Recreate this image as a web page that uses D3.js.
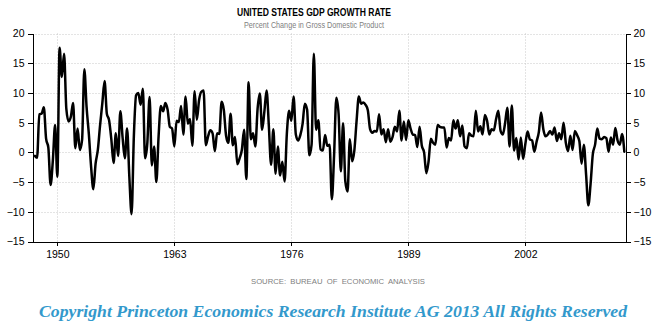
<!DOCTYPE html>
<html>
<head>
<meta charset="utf-8">
<script src="https://cdn.jsdelivr.net/npm/d3@7"></script>
<style>
  body { margin: 0; background: #fff; }
  svg { display: block; font-family: "Liberation Sans", Arial, sans-serif; }
  .grid line { stroke: #c8c8c8; stroke-dasharray: 1,2; }
  .axis path, .axis line { stroke: #000; shape-rendering: crispEdges; }
  .axis text { fill: #000; font-size: 10.5px; }
</style>
</head>
<body>
<div id="chart"></div>
<script>
// quarterly real GDP growth, annualized %, starting 1947 Q2
const growth1940s = [-0.6, -0.9, 6.4,
  6.5, 7.6, 2.3, 0.8,
  -5.5, -1.4, 4.6, -4.1];
const growth1950s = [17.6, 12.7, 16.6, 7.3,
  5.2, 6.0, 8.3, 0.7,
  4.0, 0.4, 2.1, 14.0,
  7.6, 3.1, -2.4, -6.2,
  -1.9, 0.4, 4.6, 8.3,
  12.0, 6.5, 5.4, 2.2,
  -1.8, 3.2, -0.6, 6.9,
  2.5, -1.0, 4.0, -4.1,
  -10.4, 2.6, 9.6, 10.0,
  8.0, 10.7, -1.0, 1.6];
const growth1960s = [9.3, -2.2, 1.0, -5.0,
  2.7, 7.8, 6.9, 8.3,
  7.2, 4.3, 4.0, 1.0,
  5.3, 5.1, 7.8, 3.0,
  9.4, 4.8, 5.6, 1.1,
  10.3, 5.5, 8.8, 10.2,
  10.4, 1.2, 2.7, 3.7,
  3.2, 0.2, 3.2, 3.1,
  8.5, 7.1, 2.8, 1.6,
  6.5, 1.2, 2.6, -2.0];
const growth1970s = [-1.0, 0.4, 3.8, -4.5,
  11.8, 2.2, 3.2, 1.0,
  7.3, 9.9, 3.8, 6.8,
  10.4, 4.5, -2.1, 3.9,
  -3.6, 1.0, -3.9, -1.6,
  -4.9, 3.1, 7.0, 5.3,
  9.4, 3.0, 2.0, 2.9,
  4.8, 8.2, 7.2, -0.5,
  1.3, 16.6, 3.8, 5.4,
  0.5, 0.3, 2.9, 1.1];
const growth1980s = [1.3, -7.9, -0.5, 9.2,
  6.5, -3.2, 4.9, -4.9,
  -6.6, 2.2, -1.5, 0.3,
  5.3, 9.4, 8.2, 8.4,
  8.0, 7.1, 3.9, 3.3,
  3.6, 3.5, 6.4, 3.0,
  3.9, 1.7, 3.9, 1.8,
  2.6, 4.3, 3.5, 7.0,
  2.0, 5.2, 2.1, 5.4,
  4.0, 3.0, 2.9, 0.9];
const growth1990s = [4.3, 1.1, 0.0, -3.5,
  -1.5, 2.3, 1.6, 1.3,
  4.6, 4.3, 4.2, 4.2,
  0.8, 2.4, 2.0, 5.4,
  4.0, 5.4, 2.7, 4.5,
  1.0, 0.7, 3.2, 2.8,
  2.7, 7.0, 3.5, 4.4,
  3.0, 6.3, 5.3, 3.0,
  3.9, 3.7, 5.6, 7.0,
  3.6, 3.0, 4.9, 7.5];
const growth2000s = [1.0, 7.9, 0.3, 2.4,
  -1.2, 2.5, -1.1, 1.4,
  3.5, 2.2, 2.0, 0.1,
  1.8, 3.4, 6.7, 3.9,
  2.7, 3.0, 3.6, 3.0,
  4.2, 1.9, 3.2, 2.2,
  5.0, 1.6, 0.2, 2.8,
  0.4, 3.6, 2.9, 1.9,
  -1.9, 1.3, -3.7, -8.9,
  -5.3, -0.3, 1.3, 4.0];
const growth2010s = [2.3, 2.2, 2.6, 2.4,
  0.1, 2.5, 1.3, 4.1,
  2.0, 1.3, 3.1, 0.1];

const yTicks = [-15, -10, -5, 0, 5, 10, 15, 20];
const yearTicks = [1950, 1963, 1976, 1989, 2002];
const firstQuarterEnd = 1947.5; // points sit at the end of each quarter

const width = 665;
const height = 328;

const growth = [].concat(growth1940s, growth1950s, growth1960s, growth1970s,
  growth1980s, growth1990s, growth2000s, growth2010s);
const data = growth.map((v, i) => ({ t: firstQuarterEnd + i / 4, v: v }));

const x = d3.scaleLinear().domain([1947.24, 2013.13]).range([32.5, 625.5]);
const y = d3.scaleLinear().domain([-15, 20]).range([241.5, 33.5]);

const svg = d3.select("#chart")
  .append("svg")
  .attr("width", width)
  .attr("height", height);

// dotted grid
const grid = svg.append("g").attr("class", "grid");
grid.selectAll(".h")
  .data(yTicks.filter(d => d > -15))
  .enter().append("line")
  .attr("x1", x.range()[0]).attr("x2", x.range()[1])
  .attr("y1", d => Math.round(y(d)) + 0.5)
  .attr("y2", d => Math.round(y(d)) + 0.5);
grid.selectAll(".v")
  .data(yearTicks)
  .enter().append("line")
  .attr("x1", d => Math.round(x(d)) + 0.5)
  .attr("x2", d => Math.round(x(d)) + 0.5)
  .attr("y1", y(20)).attr("y2", y(-15));

// axes
svg.append("g")
  .attr("class", "axis")
  .attr("transform", "translate(" + x.range()[0] + ",0)")
  .call(d3.axisLeft(y).tickValues(yTicks).tickSize(5).tickSizeOuter(0).tickPadding(3));

svg.append("g")
  .attr("class", "axis")
  .attr("transform", "translate(" + x.range()[1] + ",0)")
  .call(d3.axisRight(y).tickValues(yTicks).tickSize(5).tickSizeOuter(0).tickPadding(3));

svg.append("g")
  .attr("class", "axis")
  .attr("transform", "translate(0," + y.range()[0] + ")")
  .call(d3.axisBottom(x).tickValues(yearTicks).tickFormat(d3.format("d"))
    .tickSize(4).tickSizeOuter(0).tickPadding(5));

svg.selectAll(".axis text").attr("font-family", null).attr("font-size", null);

// growth line
const line = d3.line()
  .x(d => x(d.t))
  .y(d => y(d.v))
  .curve(d3.curveMonotoneX);

svg.append("path")
  .datum(data)
  .attr("fill", "none")
  .attr("stroke", "#000")
  .attr("stroke-width", 2.5)
  .attr("stroke-linejoin", "round")
  .attr("stroke-linecap", "round")
  .attr("d", line);

// titles
svg.append("text")
  .attr("x", 314).attr("y", 15.5)
  .attr("text-anchor", "middle")
  .attr("font-size", "11px")
  .attr("font-weight", "bold")
  .attr("textLength", 154)
  .attr("lengthAdjust", "spacingAndGlyphs")
  .text("UNITED STATES GDP GROWTH RATE");

svg.append("text")
  .attr("x", 314).attr("y", 27.5)
  .attr("text-anchor", "middle")
  .attr("font-size", "9px")
  .attr("fill", "#808080")
  .attr("textLength", 140)
  .attr("lengthAdjust", "spacingAndGlyphs")
  .text("Percent Change in Gross Domestic Product");

svg.append("text")
  .attr("x", 338).attr("y", 284)
  .attr("text-anchor", "middle")
  .attr("font-size", "7.5px")
  .attr("fill", "#808080")
  .attr("textLength", 174)
  .attr("lengthAdjust", "spacingAndGlyphs")
  .attr("xml:space", "preserve")
  .text("SOURCE:  BUREAU  OF  ECONOMIC  ANALYSIS");

svg.append("text")
  .attr("x", 333).attr("y", 317)
  .attr("text-anchor", "middle")
  .attr("font-family", "'Liberation Serif', serif")
  .attr("font-size", "17.5px")
  .attr("font-weight", "bold")
  .attr("font-style", "italic")
  .attr("fill", "#3399cc")
  .attr("textLength", 588)
  .attr("lengthAdjust", "spacingAndGlyphs")
  .text("Copyright Princeton Economics Research Institute AG 2013 All Rights Reserved");
</script>
</body>
</html>
